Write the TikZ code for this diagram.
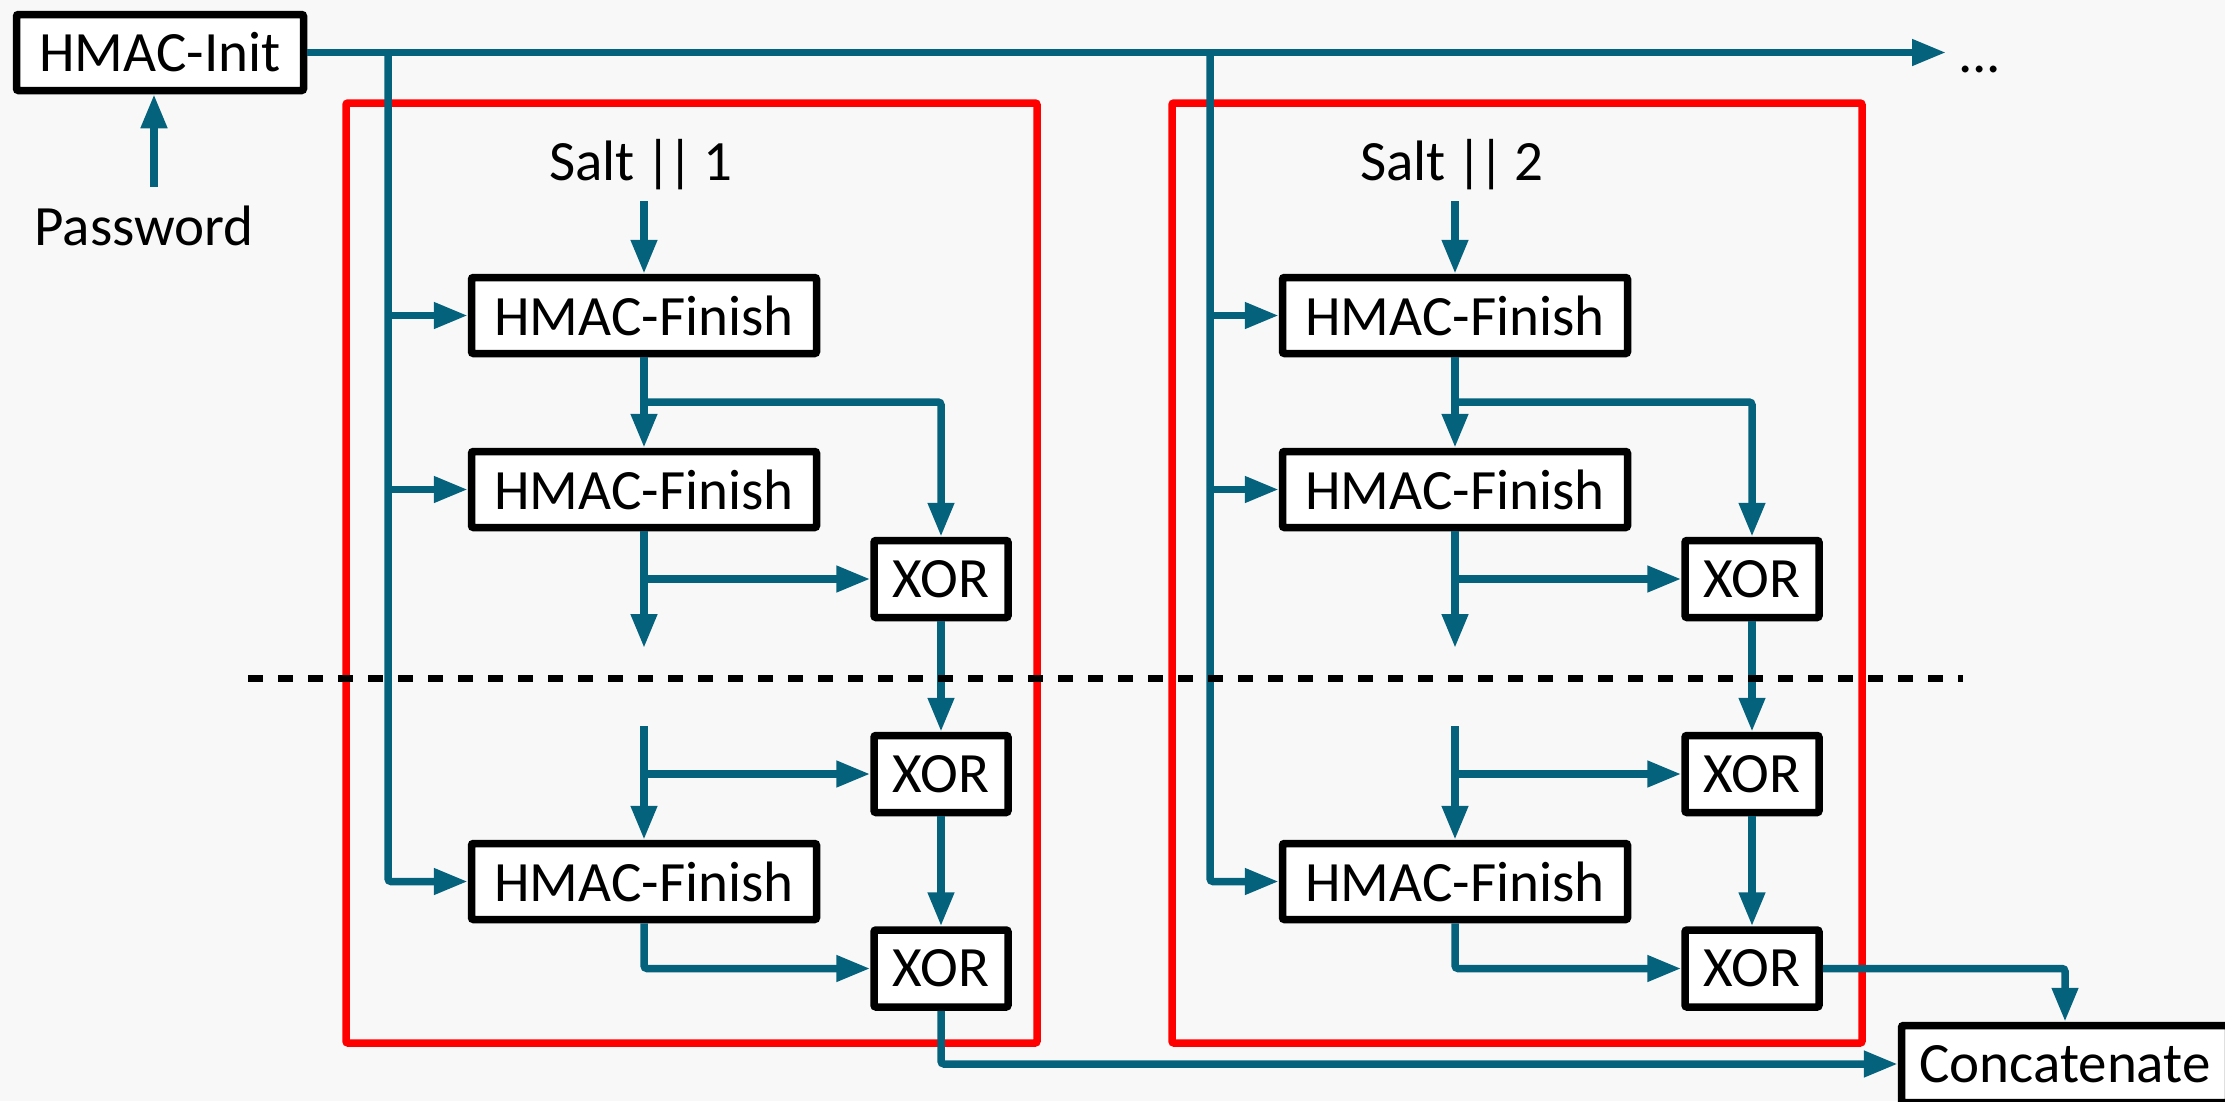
\documentclass[tikz,border=0pt]{standalone}
\usepackage{fontspec}
\setmainfont{Carlito}
\usetikzlibrary{arrows.meta}
\definecolor{flowc}{RGB}{5,98,125}
\definecolor{bgc}{RGB}{248,248,248}
\definecolor{framec}{RGB}{255,0,0}
\begin{document}
\begin{tikzpicture}[x=1pt,y=-1pt,
  txt/.style={font=\fontsize{57}{68}\selectfont},
  box/.style={txt, draw=black, line width=7.5pt, fill=white, inner sep=0pt, rounded corners=2pt},
  hfbox/.style={box, minimum width=345pt, minimum height=76pt},
  xorbox/.style={box, minimum width=134pt, minimum height=77pt},
  lbl/.style={txt, inner sep=0pt},
  flow/.style={draw=flowc, line width=7.5pt, -{Triangle[length=34pt,width=25pt]}},
  frame/.style={draw=framec, line width=7.5pt, rounded corners=2pt},
  sep/.style={draw=black, line width=7pt, dash pattern=on 15pt off 15pt},
]
\useasboundingbox (0,0) rectangle (2225,1101);
\fill[bgc] (0,0) rectangle (2225,1101);
\clip (0,0) rectangle (2225,1101);

% red frames
\draw[frame] (346,103) rectangle (1037,1043);
\draw[frame] (1172,103) rectangle (1862,1043);

% init
\node[box, minimum width=287pt, minimum height=76pt] (init) at (160,52.5) {HMAC-Init};
\node[lbl, anchor=base] (pw) at (144,245) {Password};
\coordinate (pwarrow) at (154,187);
\draw[flow] (pwarrow) -- (pwarrow |- init.south);

\node[lbl, anchor=base west] (dots) at (1958,72) {...};
\coordinate (topend) at (1946,52.5);
\draw[flow] (init.east) -- (topend);

\node[box, minimum width=327pt, minimum height=77pt] (concat) at (2065,1064) {Concatenate};

\foreach \i/\dx/\bx in {1/0/388, 2/811/1210} {
  \node[lbl, anchor=base] (salt\i) at (641+\dx,180) {Salt\hspace{0.18em}|\kern-4pt|\hspace{0.18em}\i};
  \node[hfbox] (hfa\i) at (644+\dx,315.5) {HMAC-Finish};
  \node[hfbox] (hfb\i) at (644+\dx,489.5) {HMAC-Finish};
  \node[hfbox] (hfc\i) at (644+\dx,881.5) {HMAC-Finish};
  \node[xorbox] (xa\i) at (941+\dx,579) {XOR};
  \node[xorbox] (xb\i) at (941+\dx,774) {XOR};
  \node[xorbox] (xc\i) at (941+\dx,968.5) {XOR};

  \coordinate (sarr\i) at (644+\dx,201);
  \draw[flow] (sarr\i) -- (hfa\i.north);

  % bus
  \coordinate (bus\i) at (\bx,52.5);
  \draw[flow, rounded corners=3pt] (bus\i) |- (hfc\i.west);
  \draw[flow] (bus\i |- hfa\i.west) -- (hfa\i.west);
  \draw[flow] (bus\i |- hfb\i.west) -- (hfb\i.west);

  % chain
  \draw[flow] (hfa\i.south) -- (hfb\i.north);
  \coordinate (ba\i) at (644+\dx,402);
  \draw[flow, rounded corners=3pt] (ba\i) -| (xa\i.north);
  \coordinate (ea\i) at (644+\dx,648);
  \draw[flow] (hfb\i.south) -- (ea\i);
  \draw[flow] (hfb\i.south |- xa\i.west) -- (xa\i.west);
  \coordinate (sb\i) at (644+\dx,726);
  \draw[flow] (sb\i) -- (hfc\i.north);
  \draw[flow] (sb\i |- xb\i.west) -- (xb\i.west);
  \draw[flow] (xa\i.south) -- (xb\i.north);
  \draw[flow] (xb\i.south) -- (xc\i.north);
  \draw[flow, rounded corners=3pt] (hfc\i.south) |- (xc\i.west);
}

\draw[flow, rounded corners=3pt] (xc1.south) |- (concat.west);
\draw[flow, rounded corners=3pt] (xc2.east) -| (concat.north);

% separator
\coordinate (dl) at (248,678);
\coordinate (dr) at (1963,678);
\draw[sep] (dl) -- (dr);
\end{tikzpicture}
\end{document}
